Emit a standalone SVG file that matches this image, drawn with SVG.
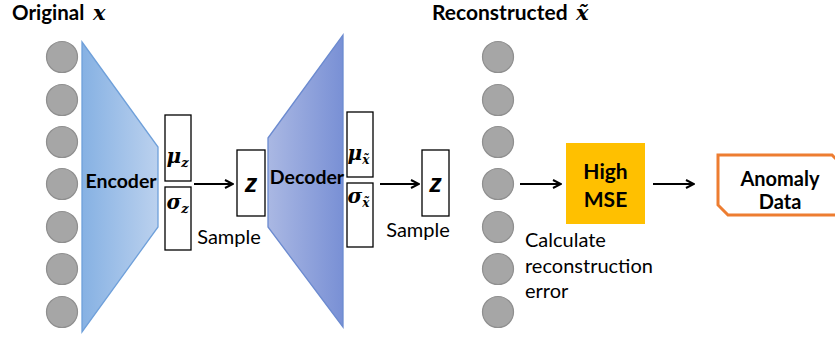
<svg xmlns="http://www.w3.org/2000/svg" width="835" height="339" viewBox="0 0 835 339">
<defs>
<linearGradient id="gEnc" x1="0" y1="0" x2="1" y2="0">
<stop offset="0" stop-color="#86B1E3"/>
<stop offset="1" stop-color="#BBD1EE"/>
</linearGradient>
<linearGradient id="gDec" x1="0" y1="0" x2="1" y2="0">
<stop offset="0" stop-color="#AAB8E3"/>
<stop offset="1" stop-color="#7990D5"/>
</linearGradient>
<marker id="arr" viewBox="0 0 10 10" refX="9" refY="5" markerWidth="10" markerHeight="10" markerUnits="userSpaceOnUse" orient="auto">
<path d="M1,1 L9,5 L1,9" fill="none" stroke="#000" stroke-width="2"/>
</marker>
</defs>
<style>
.neuron{fill:#A6A6A6;stroke:#8F8F8F;stroke-width:1.2}
.box{fill:#fff;stroke:#000;stroke-width:1.3}
.lbl{font-family:Lato,"Liberation Sans",sans-serif;font-weight:bold;fill:#000}
.txt{font-family:Lato,"Liberation Sans",sans-serif;fill:#000}
.math{font-family:"DejaVu Serif","Liberation Serif",serif;font-weight:bold;font-style:italic;fill:#000}
.zz{font-family:"Liberation Sans",sans-serif;font-weight:bold;font-style:italic;fill:#000}
.conn{stroke:#000;stroke-width:2;fill:none;marker-end:url(#arr)}
</style>

<g id="title-original">
<text class="lbl" x="12" y="20" font-size="20.5">Original</text>
<text class="math" x="93" y="20" font-size="21">x</text>
</g>
<g id="title-reconstructed">
<text class="lbl" x="432" y="20" font-size="21">Reconstructed</text>
<text class="math" x="576" y="20" font-size="21">x̃</text>
</g>

<g id="input-layer">
<circle class="neuron" cx="62" cy="57" r="15.5"/>
<circle class="neuron" cx="62" cy="100" r="15.5"/>
<circle class="neuron" cx="62" cy="142" r="15.5"/>
<circle class="neuron" cx="62" cy="184" r="15.5"/>
<circle class="neuron" cx="62" cy="227" r="15.5"/>
<circle class="neuron" cx="62" cy="269" r="15.5"/>
<circle class="neuron" cx="62" cy="312" r="15.5"/>
</g>

<g id="encoder">
<polygon points="82,42 158,147 158,227 82,332" fill="url(#gEnc)" stroke="#6FA0DA" stroke-width="1.3"/>
<text class="lbl" x="121" y="188" font-size="19.5" text-anchor="middle">Encoder</text>
</g>

<g id="mu-z">
<rect class="box" x="165" y="115" width="26" height="66"/>
<text class="math" x="166.5" y="163" font-size="20">μ<tspan font-size="13" dy="4">z</tspan></text>
</g>
<g id="sigma-z">
<rect class="box" x="165" y="187" width="26" height="63"/>
<text class="math" x="166.5" y="209" font-size="20">σ<tspan font-size="13" dy="4">z</tspan></text>
</g>

<g id="z-latent">
<rect class="box" x="237" y="150" width="28" height="66"/>
<text class="zz" x="251" y="192" font-size="25" text-anchor="middle">z</text>
</g>
<g id="sample-1">
<text class="txt" x="229" y="244" font-size="20" text-anchor="middle">Sample</text>
</g>

<g id="decoder">
<polygon points="268,138 343,35 343,327 268,227" fill="url(#gDec)" stroke="#6C8BD0" stroke-width="1.3"/>
<text class="lbl" x="307" y="184" font-size="19.5" text-anchor="middle">Decoder</text>
</g>

<g id="mu-x">
<rect class="box" x="347" y="112" width="26" height="65"/>
<text class="math" x="347.5" y="160" font-size="20">μ<tspan font-size="12" dy="4">x̃</tspan></text>
</g>
<g id="sigma-x">
<rect class="box" x="347" y="183" width="26" height="64"/>
<text class="math" x="347.5" y="203" font-size="20">σ<tspan font-size="12" dy="4">x̃</tspan></text>
</g>

<g id="z-output">
<rect class="box" x="422" y="150" width="27" height="66"/>
<text class="zz" x="435.5" y="192" font-size="25" text-anchor="middle">z</text>
</g>
<g id="sample-2">
<text class="txt" x="418" y="237" font-size="20" text-anchor="middle">Sample</text>
</g>

<g id="output-layer">
<circle class="neuron" cx="498" cy="57" r="15.5"/>
<circle class="neuron" cx="498" cy="100" r="15.5"/>
<circle class="neuron" cx="498" cy="142" r="15.5"/>
<circle class="neuron" cx="498" cy="184" r="15.5"/>
<circle class="neuron" cx="498" cy="227" r="15.5"/>
<circle class="neuron" cx="498" cy="269" r="15.5"/>
<circle class="neuron" cx="498" cy="312" r="15.5"/>
</g>

<g id="calc-label">
<text class="txt" font-size="20"><tspan x="525" y="247">Calculate</tspan><tspan x="525" y="273">reconstruction</tspan><tspan x="525" y="298">error</tspan></text>
</g>

<g id="high-mse">
<rect x="566" y="143" width="79" height="81" fill="#FFC000"/>
<text class="lbl" font-size="21" text-anchor="middle"><tspan x="605.5" y="179">High</tspan><tspan x="605.5" y="207">MSE</tspan></text>
</g>

<g id="anomaly-data">
<path d="M718,155 L832,155 L842,165 L842,215 L728,215 L718,205 Z" fill="#fff" stroke="#ED7D31" stroke-width="3"/>
<text class="lbl" font-size="20" text-anchor="middle"><tspan x="780" y="186">Anomaly</tspan><tspan x="780" y="209">Data</tspan></text>
</g>

<g id="connectors">
<line class="conn" x1="194" y1="184" x2="233" y2="184"/>
<line class="conn" x1="380" y1="184" x2="419" y2="184"/>
<line class="conn" x1="520" y1="184" x2="561" y2="184"/>
<line class="conn" x1="653" y1="184" x2="694" y2="184"/>
</g>
</svg>
